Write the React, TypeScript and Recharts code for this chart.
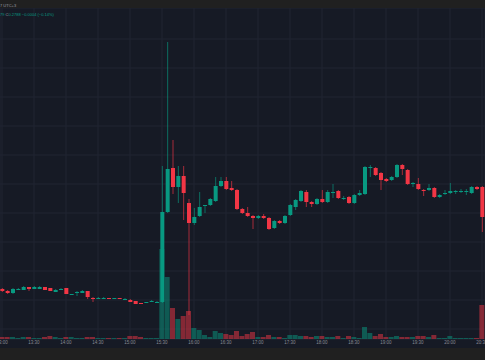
import { ComposedChart, Bar, XAxis, YAxis, CartesianGrid, Cell } from "recharts";

// 5-minute candles
const times = [
  "13:00", "13:05", "13:10", "13:15", "13:20", "13:25", "13:30", "13:35", "13:40", "13:45",
  "13:50", "13:55", "14:00", "14:05", "14:10", "14:15", "14:20", "14:25", "14:30", "14:35",
  "14:40", "14:45", "14:50", "14:55", "15:00", "15:05", "15:10", "15:15", "15:20", "15:25",
  "15:30", "15:35", "15:40", "15:45", "15:50", "15:55", "16:00", "16:05", "16:10", "16:15",
  "16:20", "16:25", "16:30", "16:35", "16:40", "16:45", "16:50", "16:55", "17:00", "17:05",
  "17:10", "17:15", "17:20", "17:25", "17:30", "17:35", "17:40", "17:45", "17:50", "17:55",
  "18:00", "18:05", "18:10", "18:15", "18:20", "18:25", "18:30", "18:35", "18:40", "18:45",
  "18:50", "18:55", "19:00", "19:05", "19:10", "19:15", "19:20", "19:25", "19:30", "19:35",
  "19:40", "19:45", "19:50", "19:55", "20:00", "20:05", "20:10", "20:15", "20:20", "20:25",
  "20:30",
];

const opens = [
  0.27804, 0.27802, 0.278, 0.27804, 0.27803, 0.27806, 0.27804, 0.27804, 0.27806, 0.27805,
  0.27801, 0.27804, 0.27805, 0.27798, 0.27801, 0.278, 0.27802, 0.27795, 0.27794, 0.27795,
  0.27795, 0.27794, 0.27795, 0.27794, 0.27793, 0.27792, 0.2779, 0.2779, 0.27791, 0.27791,
  0.27791, 0.27881, 0.27925, 0.27906, 0.27917, 0.2789, 0.2787, 0.27877, 0.27887, 0.27888,
  0.27892, 0.27907, 0.27912, 0.27905, 0.27903, 0.27884, 0.2788, 0.27877, 0.27875, 0.27877,
  0.27875, 0.27865, 0.27872, 0.2787, 0.27878, 0.27886, 0.27892, 0.27901, 0.27891, 0.27889,
  0.27894, 0.27891, 0.27901, 0.27902, 0.27895, 0.27896, 0.2789, 0.27898, 0.27899, 0.27926,
  0.27925, 0.2792, 0.27914, 0.27913, 0.27916, 0.27928, 0.27923, 0.2791, 0.27909, 0.27903,
  0.27903, 0.27905, 0.27896, 0.279, 0.279, 0.27902, 0.27902, 0.27902, 0.279, 0.27906,
  0.27906,
];
const highs = [
  0.27805, 0.27803, 0.27805, 0.27805, 0.27807, 0.27806, 0.27807, 0.27807, 0.27806, 0.27805,
  0.27804, 0.27805, 0.27805, 0.27799, 0.27802, 0.27803, 0.27802, 0.27796, 0.27796, 0.27796,
  0.27795, 0.27795, 0.27795, 0.27795, 0.27794, 0.27792, 0.2779, 0.27791, 0.27793, 0.27792,
  0.27927, 0.28051, 0.27953, 0.27927, 0.27927, 0.27894, 0.27885, 0.27901, 0.27888, 0.27895,
  0.27916, 0.27916, 0.27916, 0.27912, 0.27904, 0.27885, 0.27886, 0.27878, 0.27878, 0.27879,
  0.27876, 0.27873, 0.27873, 0.27878, 0.27889, 0.27894, 0.27903, 0.27903, 0.27892, 0.27895,
  0.27903, 0.27903, 0.27909, 0.27903, 0.27897, 0.27897, 0.27899, 0.27903, 0.27927, 0.27928,
  0.27926, 0.27921, 0.27915, 0.27917, 0.27929, 0.27929, 0.27924, 0.27911, 0.27915, 0.27904,
  0.27909, 0.27906, 0.27899, 0.27903, 0.2791, 0.27903, 0.27904, 0.27904, 0.27907, 0.27907,
  0.27907,
];
const lows = [
  0.27801, 0.27799, 0.27799, 0.27803, 0.27803, 0.27802, 0.27804, 0.27804, 0.27803, 0.27802,
  0.27801, 0.27803, 0.27799, 0.27798, 0.27797, 0.278, 0.27794, 0.27791, 0.27794, 0.27794,
  0.27794, 0.27794, 0.27794, 0.27793, 0.27791, 0.27789, 0.27789, 0.2779, 0.27791, 0.2779,
  0.2779, 0.2788, 0.27899, 0.2789, 0.27873, 0.27778, 0.27868, 0.27876, 0.2788, 0.27887,
  0.27891, 0.27906, 0.27903, 0.27902, 0.27883, 0.27879, 0.27876, 0.27864, 0.27874, 0.27874,
  0.27863, 0.27864, 0.27869, 0.27869, 0.27877, 0.27883, 0.27891, 0.27886, 0.27886, 0.27888,
  0.2789, 0.2789, 0.27895, 0.27894, 0.27893, 0.27889, 0.27889, 0.27897, 0.27898, 0.27916,
  0.27917, 0.27903, 0.27911, 0.27912, 0.27915, 0.27918, 0.27908, 0.27906, 0.27903, 0.27897,
  0.27902, 0.27895, 0.27895, 0.27898, 0.27899, 0.27899, 0.279, 0.27898, 0.27899, 0.27903,
  0.27861,
];
const closes = [
  0.27802, 0.278, 0.27804, 0.27804, 0.27806, 0.27804, 0.27806, 0.27806, 0.27803, 0.27802,
  0.27803, 0.27804, 0.27799, 0.27799, 0.27801, 0.27802, 0.27796, 0.27794, 0.27795, 0.27795,
  0.27794, 0.27795, 0.27794, 0.27794, 0.27791, 0.27789, 0.27789, 0.27791, 0.27792, 0.27791,
  0.27881, 0.27924, 0.27906, 0.27917, 0.279, 0.2787, 0.27876, 0.27886, 0.27888, 0.27894,
  0.27907, 0.27912, 0.27904, 0.27903, 0.27884, 0.2788, 0.27877, 0.27875, 0.27877, 0.27875,
  0.27864, 0.27872, 0.2787, 0.27877, 0.27888, 0.27893, 0.27902, 0.27891, 0.27889, 0.27894,
  0.27891, 0.27901, 0.27901, 0.27895, 0.27895, 0.2789, 0.27898, 0.279, 0.27926, 0.27926,
  0.27918, 0.27913, 0.27912, 0.27916, 0.27928, 0.27924, 0.27909, 0.2791, 0.27904, 0.27902,
  0.27905, 0.27896, 0.27898, 0.279, 0.27902, 0.27902, 0.27902, 0.27902, 0.27906, 0.27904,
  0.27876,
];
// volume, thousands
const volumes = [
  2, 2, 2, 1, 2, 2, 1, 1, 2, 3, 2, 1, 2, 2, 1, 1, 2, 2, 1, 1, 1, 1, 1, 1, 3, 3, 2, 1, 1, 1,
  90, 62, 31, 20, 23, 28, 11, 9, 4, 2, 8, 6, 5, 4, 8, 3, 5, 7, 2, 2,
  4, 2, 2, 1, 4, 4, 3, 3, 2, 3, 3, 2, 2, 3, 1, 3, 2, 1, 12, 6,
  3, 5, 2, 2, 3, 2, 2, 2, 3, 3, 2, 4, 1, 1, 3, 1, 1, 1, 1, 1, 34,
];

const axisLabels = ["13:00", "13:30", "14:00", "14:30", "15:00", "15:30", "16:00", "16:30", "17:00", "17:30", "18:00", "18:30", "19:00", "19:30", "20:00", "20:30"];
const priceGrid = [
  0.28083, 0.280685, 0.28054, 0.280395, 0.28025, 0.280105, 0.27996, 0.279815, 0.27967, 0.279525,
  0.27938, 0.279235, 0.27909, 0.278945, 0.2788, 0.278655, 0.27851, 0.278365, 0.27822, 0.278075,
  0.27793, 0.277785, 0.27764,
];

const UP = "#089981";
const DOWN = "#f23645";
const BG = "#161a25";
const W = 485;
const H = 340;

const toMin = (s: string) => {
  const [h, m] = s.split(":").map(Number);
  return (h - 13) * 60 + m;
};

const X_DOMAIN = [-1.875, 452.8125];
const P_DOMAIN = [0.27754, 0.28085];

const rows = times.map((t, i) => ({
  t: toMin(t),
  open: opens[i],
  high: highs[i],
  low: lows[i],
  close: closes[i],
  volume: volumes[i],
}));

function Candle(props: any) {
  const { x, y, width, height, payload } = props;
  if (!payload) return null;
  const { open, close, high, low } = payload;
  const color = close >= open ? UP : DOWN;
  const top = Math.min(y, y + height);
  const h = Math.abs(height);
  const k = high === low ? 0 : h / (high - low);
  const bodyTop = top + (high - Math.max(open, close)) * k;
  const bodyH = Math.max(1, Math.abs(open - close) * k);
  const cx = x + width / 2;
  return (
    <g>
      <line x1={cx} x2={cx} y1={top} y2={top + h} stroke={color} strokeOpacity={0.65} strokeWidth={1} />
      <rect x={x} y={bodyTop} width={width} height={bodyH} fill={color} />
    </g>
  );
}

const font = "'Liberation Sans', Arial, sans-serif";

export default function App() {
  return (
    <div style={{ position: "absolute", left: 0, top: 0, width: W, height: 360, background: "#202020", overflow: "hidden" }}>
      <div style={{ position: "absolute", left: 0, top: 8, width: W, height: H, background: BG }}>
        {/* volume + grid + time axis */}
        <div style={{ position: "absolute", left: 0, top: 0 }}>
          <ComposedChart width={W} height={H} data={rows} margin={{ top: 0, right: 0, bottom: 0, left: 0 }}>
            <CartesianGrid stroke="#212532" yAxisId="p" />
            <XAxis
              dataKey="t"
              type="number"
              domain={X_DOMAIN}
              allowDataOverflow
              ticks={axisLabels.map(toMin)}
              interval={0}
              tickFormatter={(v: number) => axisLabels[axisLabels.map(toMin).indexOf(v)]}
              height={9}
              tickSize={0}
              tickMargin={2}
              axisLine={false}
              tickLine={false}
              tick={{ fontSize: 4.5, fill: "#868993", fontFamily: font }}
            />
            <YAxis yAxisId="vol" hide domain={[0, 331]} allowDataOverflow />
            <YAxis yAxisId="p" hide domain={P_DOMAIN} ticks={priceGrid} allowDataOverflow />
            <Bar yAxisId="vol" dataKey="volume" barSize={5} isAnimationActive={false}>
              {rows.map((r, i) => (
                <Cell key={i} fill={r.close >= r.open ? UP : DOWN} fillOpacity={0.5} />
              ))}
            </Bar>
          </ComposedChart>
        </div>
        {/* candles */}
        <div style={{ position: "absolute", left: 0, top: 0 }}>
          <ComposedChart width={W} height={H} data={rows} margin={{ top: 0, right: 0, bottom: 9, left: 0 }}>
            <XAxis dataKey="t" type="number" domain={X_DOMAIN} allowDataOverflow hide />
            <YAxis hide domain={P_DOMAIN} allowDataOverflow />
            <Bar
              dataKey={(d: any) => [d.low, d.high]}
              barSize={4}
              shape={(p: any) => <Candle {...p} />}
              isAnimationActive={false}
            />
          </ComposedChart>
        </div>
      </div>
      <svg width={W} height={20} style={{ position: "absolute", left: 0, top: 0 }}>
        <text x={0} y={6.5} fontSize={4} fill="#9a9ca3" fontFamily={font}>7 UTC+3</text>
        <text x={0} y={15.5} fontSize={4} fontFamily={font} fill={UP}>
          79 <tspan fill="#9a9ca3">C</tspan>0.2788 −0.0004 (−0.14%)
        </text>
      </svg>
    </div>
  );
}
